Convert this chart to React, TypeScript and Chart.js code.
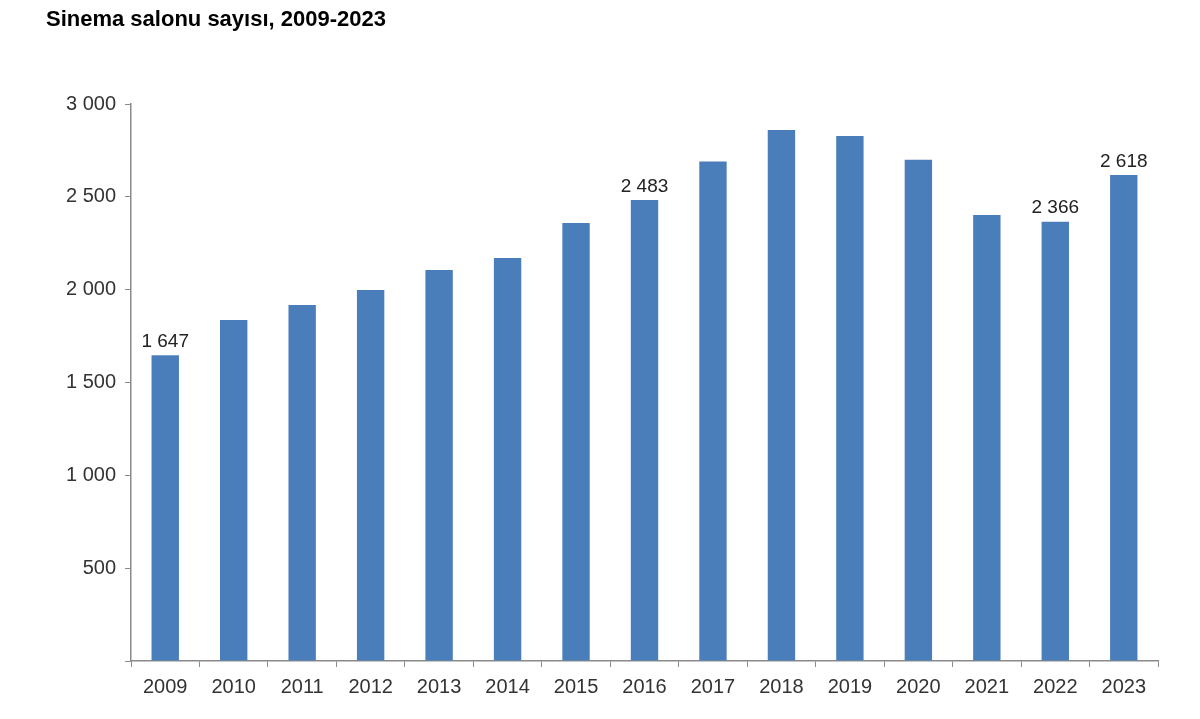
import React, { useEffect, useRef } from "react";
import { Chart, registerables } from "chart.js";

Chart.register(...registerables);

const years = ["2009","2010","2011","2012","2013","2014","2015","2016","2017","2018","2019","2020","2021","2022","2023"];
const salons = [1647, 1837, 1917, 1998, 2106, 2171, 2359, 2483, 2690, 2860, 2828, 2700, 2402, 2366, 2618];
const labelledYears = ["2009", "2016", "2022", "2023"];
const yTicks = [0, 500, 1000, 1500, 2000, 2500, 3000];
const title = "Sinema salonu sayısı, 2009-2023";

const fmt = (v: number) => String(Math.round(v)).replace(/\B(?=(\d{3})+(?!\d))/g, " ");

const FONT = "'Liberation Sans', Arial, sans-serif";

const labelPlugin = {
  id: "barLabels",
  afterDatasetsDraw(chart: any) {
    const ctx = chart.ctx;
    const meta = chart.getDatasetMeta(0);
    ctx.save();
    ctx.font = `19px ${FONT}`;
    ctx.fillStyle = "#222";
    ctx.textAlign = "center";
    ctx.textBaseline = "bottom";
    meta.data.forEach((bar: any, i: number) => {
      if (!labelledYears.includes(years[i])) return;
      ctx.fillText(fmt(salons[i]), bar.x, bar.y - 4);
    });
    ctx.restore();
  },
};

export default function App() {
  const ref = useRef<HTMLCanvasElement>(null);
  useEffect(() => {
    if (!ref.current) return;
    const chart = new Chart(ref.current, {
      type: "bar",
      data: {
        labels: years,
        datasets: [
          {
            data: salons,
            backgroundColor: "#4a7ebb",
            barPercentage: 0.4,
            categoryPercentage: 1,
          },
        ],
      },
      options: {
        responsive: false,
        animation: false,
        layout: { padding: { top: 104, right: 42, left: 0, bottom: 0 } },
        plugins: { legend: { display: false }, tooltip: { enabled: false } },
        scales: {
          x: {
            grid: {
              display: true,
              drawOnChartArea: false,
              drawTicks: true,
              tickLength: 6,
              color: "#8a8a8a",
              offset: true,
            },
            border: { display: true, color: "#8a8a8a", width: 1.5 },
            ticks: { color: "#333", font: { family: FONT, size: 20 }, padding: 8 },
            afterFit(scale: any) {
              scale.height = 58;
            },
          },
          y: {
            min: 0,
            max: 3000,
            afterBuildTicks(scale: any) {
              scale.ticks = yTicks.map((v) => ({ value: v }));
            },
            grid: {
              display: true,
              drawOnChartArea: false,
              drawTicks: true,
              tickLength: 6,
              color: "#8a8a8a",
            },
            border: { display: true, color: "#8a8a8a", width: 1.5 },
            ticks: {
              color: "#333",
              font: { family: FONT, size: 20 },
              padding: 9,
              callback: (v: any) => (Number(v) === 0 ? "" : fmt(Number(v))),
            },
            afterFit(scale: any) {
              scale.width = 131;
            },
          },
        },
      },
      plugins: [labelPlugin],
    });
    return () => chart.destroy();
  }, []);
  return (
    <div style={{ position: "fixed", left: 0, top: 0, width: 1200, height: 719, background: "#fff" }}>
      <canvas ref={ref} width={1200} height={719} style={{ position: "absolute", left: 0, top: 0 }} />
      <div
        style={{
          position: "absolute",
          left: 46,
          top: 6,
          fontFamily: FONT,
          fontWeight: "bold",
          fontSize: 22,
          color: "#000",
          whiteSpace: "nowrap",
        }}
      >
        {title}
      </div>
    </div>
  );
}
